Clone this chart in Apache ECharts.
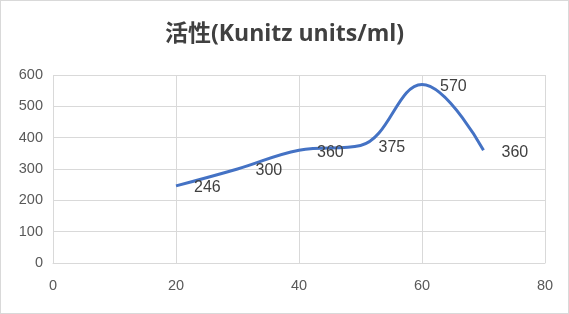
<!DOCTYPE html>
<html><head><meta charset="utf-8">
<script src="https://cdn.jsdelivr.net/npm/echarts@6/dist/echarts.min.js"></script>
<style>
html,body{margin:0;padding:0;background:#fff;}
#c{width:569px;height:314px;box-sizing:border-box;border:1px solid #d9d9d9;}
</style></head>
<body><div id="c"></div>
<script>
var titleText = '活性(Kunitz units/ml)';
var xValues = [20, 30, 40, 50, 60, 70];
var activity = [246, 300, 360, 375, 570, 360];
var xTicks = [0, 20, 40, 60, 80];
var yTicks = [0, 100, 200, 300, 400, 500, 600];

var chart = echarts.init(document.getElementById('c'), null, {renderer: 'canvas'});
var font = '"Liberation Sans", "Noto Sans CJK SC", sans-serif';
chart.setOption({
  animation: false,
  title: {
    text: titleText, left: 'center', top: 17,
    textStyle: {fontFamily: '"Open Sans", "Noto Sans CJK SC", sans-serif', fontSize: 23, fontWeight: 'bold', color: '#404040'}
  },
  grid: {left: 52, right: 23, top: 74, bottom: 50, containLabel: false},
  xAxis: {
    type: 'value', min: xTicks[0], max: xTicks[xTicks.length - 1], interval: 20,
    axisLine: {show: true, lineStyle: {color: '#d9d9d9'}},
    axisTick: {show: false},
    splitLine: {show: true, lineStyle: {color: '#d9d9d9'}},
    axisLabel: {color: '#595959', fontSize: 14.5, fontFamily: font, margin: 16}
  },
  yAxis: {
    type: 'value', min: yTicks[0], max: yTicks[yTicks.length - 1], interval: 100,
    axisLine: {show: false},
    axisTick: {show: false},
    splitLine: {show: true, lineStyle: {color: '#d9d9d9'}},
    axisLabel: {color: '#595959', fontSize: 14.5, fontFamily: font, margin: 10}
  },
  series: [{
    type: 'line',
    data: xValues.map(function (x, i) { return [x, activity[i]]; }),
    smooth: 0.4,
    showSymbol: true,
    symbolSize: 0,
    lineStyle: {color: '#4472C4', width: 3},
    itemStyle: {color: '#4472C4'},
    label: {
      show: true, position: 'right', distance: 18, offset: [0, 2],
      color: '#404040', fontSize: 16, fontFamily: font,
      formatter: function (p) { return p.value[1]; }
    }
  }]
});
</script></body></html>
